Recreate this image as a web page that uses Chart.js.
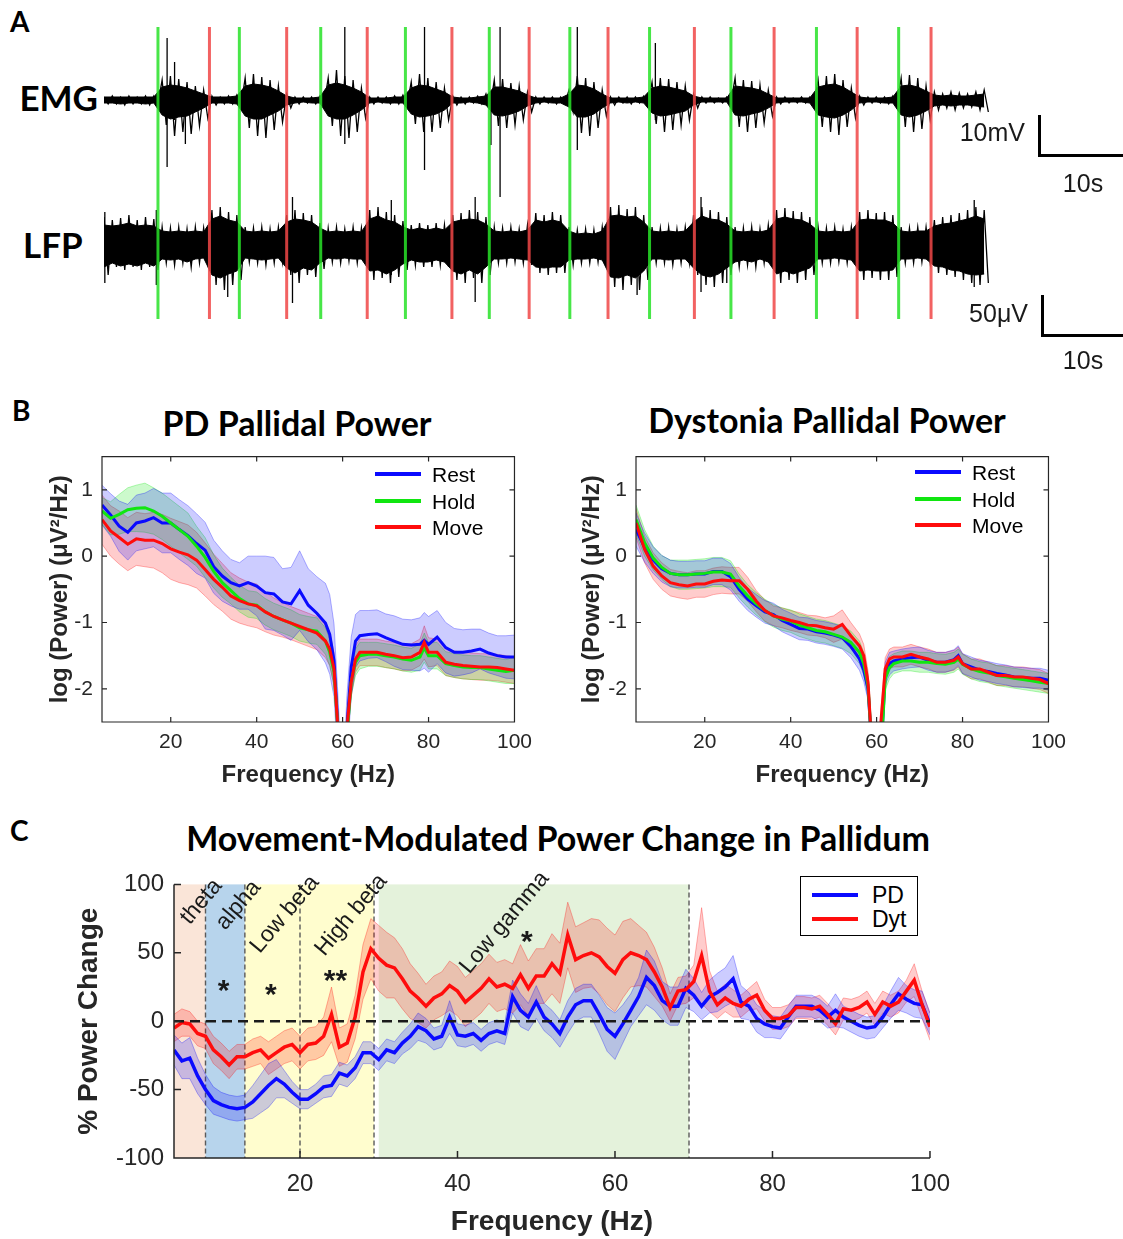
<!DOCTYPE html>
<html lang="en">
<head>
<meta charset="utf-8">
<title>Pallidal power</title>
<script src="https://cdn.jsdelivr.net/npm/chart.js@4.4.1/dist/chart.umd.min.js"></script>
<style>
  html, body { margin: 0; padding: 0; background: #fff; }
  body { position: relative; width: 1123px; height: 1239px; overflow: hidden; font-family: "Liberation Sans", Arial, sans-serif; color: #1a1a1a; }
  canvas { position: absolute; }
  .t { position: absolute; line-height: 1; white-space: nowrap; }
  .bold { font-family: Lato, "Open Sans", sans-serif; font-weight: 700; color: #000; }
  .bar { position: absolute; background: #000; }
  .key { position: absolute; height: 4px; }
</style>
</head>
<body>

<!-- panel A -->
<div class="t bold" style="left:10px;top:21px;font-size:28px;transform:translateY(-50%)">A</div>
<div class="t bold" style="left:98px;top:97px;font-size:35px;transform:translate(-100%,-50%)">EMG</div>
<div class="t bold" style="left:23px;top:244px;font-size:35px;transform:translateY(-50%)">LFP</div>
<canvas id="traces" width="886" height="292" style="left:104px;top:27px"></canvas>
<div class="t" style="left:1025px;top:132px;font-size:25px;transform:translate(-100%,-50%)">10mV</div>
<div class="bar" style="left:1038px;top:115px;width:2.5px;height:41px"></div>
<div class="bar" style="left:1038px;top:154px;width:85px;height:2.5px"></div>
<div class="t" style="left:1083px;top:183px;font-size:25px;transform:translate(-50%,-50%)">10s</div>
<div class="t" style="left:1028px;top:313px;font-size:25px;transform:translate(-100%,-50%)">50μV</div>
<div class="bar" style="left:1041px;top:295px;width:2.5px;height:41px"></div>
<div class="bar" style="left:1041px;top:334px;width:82px;height:2.5px"></div>
<div class="t" style="left:1083px;top:360px;font-size:25px;transform:translate(-50%,-50%)">10s</div>

<!-- panel B -->
<div class="t bold" style="left:12px;top:410px;font-size:28px;transform:translateY(-50%)">B</div>
<div class="t bold" style="left:297px;top:423px;font-size:34px;transform:translate(-50%,-50%)">PD Pallidal Power</div>
<div class="t bold" style="left:827px;top:420px;font-size:34px;transform:translate(-50%,-50%)">Dystonia Pallidal Power</div>
<canvas id="pdPower" width="510" height="365" style="left:30px;top:435px"></canvas>
<canvas id="dytPower" width="510" height="365" style="left:564px;top:435px"></canvas>
<div id="legendPd"></div>
<div id="legendDyt"></div>

<!-- panel C -->
<div class="t bold" style="left:10px;top:830px;font-size:28px;transform:translateY(-50%)">C</div>
<div class="t bold" style="left:558px;top:838px;font-size:34px;transform:translate(-50%,-50%)">Movement-Modulated Power Change in Pallidum</div>
<canvas id="change" width="890" height="379" style="left:72px;top:860px"></canvas>
<div style="position:absolute;left:800px;top:876px;width:116px;height:58px;border:1.5px solid #000;background:#fff"></div>
<div id="legendC"></div>

<script>
// ---- A: raw traces, read per second (px-like units around each baseline)
// peak extents of the signal
const emgHigh = [3,4,3,4,3,4,4, 20,24,21,18,14,10, 4,3,4,5, 22,26,23,20,14,6, 3,3,3,4, 22,30,24,20,12, 3,3,3,4,5, 18,26,22,18,12, 4,3,3,4,6, 20,21,17,14,8, 3,3,3,3,10, 24,22,18,10, 3,3,3,3,4, 18,22,21,18,14,6, 3,3,2,3, 22,20,19,15,10, 3,3,2,3,3, 20,24,26,20,12, 4,3,3,3,4, 22,25,22,14,8, 6,8,7,6,8,10];
const emgLow = [-4,-4,-5,-4,-4,-5,-4, -25,-36,-32,-34,-26,-18, -5,-4,-4,-6, -28,-36,-38,-30,-22,-8, -4,-3,-4,-5, -26,-36,-38,-32,-18, -4,-3,-4,-4,-5, -24,-32,-32,-28,-20, -5,-4,-3,-4,-8, -26,-28,-25,-20,-12, -4,-3,-4,-4,-12, -33,-36,-28,-16, -5,-3,-4,-3,-4, -24,-32,-30,-25,-20,-8, -3,-3,-3,-3, -27,-32,-28,-23,-16, -4,-3,-3,-3,-4, -27,-32,-35,-27,-18, -5,-3,-3,-4,-4, -27,-32,-29,-20,-10, -8,-10,-8,-7,-10,-12];
// dense core of the signal
const emgCoreHigh = [3,3,3,3,3,3,3, 13,15,14,12,9,6, 3,3,3,4, 14,16,15,13,9,4, 2,2,2,3, 15,17,15,12,8, 2,2,2,3,3, 12,15,14,11,8, 3,2,2,3,4, 13,13,11,9,5, 2,2,2,2,6, 15,14,11,6, 2,2,2,2,3, 12,14,13,11,9,4, 2,2,2,2, 14,13,12,10,6, 2,2,2,2,2, 13,15,16,13,8, 3,2,2,2,3, 14,15,13,9,5, 4,5,4,4,5,6];
const emgCoreLow = [-3,-3,-4,-3,-3,-4,-3, -15,-19,-17,-16,-12,-8, -3,-3,-3,-4, -16,-19,-19,-15,-11,-5, -3,-2,-3,-3, -16,-19,-19,-15,-10, -3,-2,-3,-3,-3, -14,-17,-16,-14,-10, -3,-3,-2,-3,-5, -15,-16,-14,-11,-6, -3,-2,-3,-3,-7, -17,-17,-14,-8, -3,-2,-3,-2,-3, -13,-16,-15,-13,-11,-5, -2,-2,-2,-2, -15,-16,-14,-12,-8, -3,-2,-2,-2,-3, -15,-17,-18,-15,-10, -3,-2,-2,-3,-3, -15,-17,-15,-11,-6, -5,-6,-5,-5,-6,-7];
const emgSpikes = [[7.6,-67,62],[8.5,-20,38],[9.8,-44,10],[29.0,-44,73],[38.6,-70,73],[46.6,-45,5],[47.7,-97,73],[57.0,-50,73],[66.4,-20,57]];
const lfpHigh = [28,25,27,30,25,28,26, 18,17,18,16,18,17, 35,38,33,30, 18,17,18,16,18, 30,35,32,30,22, 17,18,16,18,17, 35,38,33,30,24, 20,22,20,22,20, 30,32,35,33,28, 18,17,18,16,20, 32,30,33,30,18, 15,16,15,18, 38,40,36,38,30, 18,17,18,16,18, 30,38,35,33,28, 18,17,18,16,20, 35,37,34,33,28, 18,17,18,16,18, 33,35,32,33,30, 18,17,18,18, 25,28,30,32,35,38,35];
const lfpLow = [-30,-22,-25,-22,-25,-22,-25, -18,-20,-18,-22,-18,-17, -40,-45,-40,-35, -17,-18,-20,-18,-17, -30,-38,-30,-32,-24, -17,-18,-16,-18,-18, -35,-33,-38,-32,-25, -20,-22,-22,-20,-22, -35,-38,-33,-38,-30, -18,-18,-17,-18,-20, -28,-30,-28,-28,-20, -18,-18,-17,-20, -42,-45,-40,-45,-35, -18,-18,-20,-18,-18, -30,-40,-42,-38,-30, -22,-20,-22,-18,-22, -38,-35,-38,-35,-30, -18,-18,-17,-18,-20, -35,-33,-35,-35,-32, -18,-18,-17,-18, -28,-30,-32,-35,-38,-40,-38];
const lfpCoreHigh = [20,19,20,22,19,20,19, 14,13,14,13,14,13, 26,29,25,23, 14,13,14,13,14, 23,26,25,23,17, 13,14,13,14,13, 26,29,25,23,18, 15,17,15,17,15, 23,25,26,25,21, 14,13,14,13,15, 25,23,25,23,14, 11,12,11,14, 29,30,28,29,23, 14,13,14,13,14, 23,29,26,25,21, 14,13,14,13,15, 26,28,26,25,21, 14,13,14,13,14, 25,26,25,25,22, 14,13,14,14, 19,21,22,24,26,29,26];
const lfpCoreLow = [-22,-18,-21,-19,-21,-18,-21, -14,-15,-14,-17,-14,-13, -30,-33,-29,-26, -13,-14,-15,-14,-13, -23,-28,-23,-25,-18, -13,-14,-13,-14,-14, -26,-25,-29,-25,-19, -15,-17,-17,-15,-17, -26,-29,-25,-29,-22, -14,-14,-13,-14,-15, -22,-23,-22,-22,-15, -14,-14,-13,-15, -32,-33,-30,-33,-26, -14,-14,-15,-14,-14, -23,-30,-32,-29,-23, -17,-15,-17,-14,-17, -29,-26,-29,-26,-23, -14,-14,-13,-14,-15, -26,-25,-26,-26,-25, -14,-14,-13,-14, -21,-22,-25,-26,-29,-30,-29];
const lfpSpikes = [[0.1,-38,33],[6.3,-40,35],[14.9,-52,20],[22.7,-58,48],[34.6,-30,45],[44.7,-57,48],[64.2,-50,20],[71.9,-47,48],[75.0,-38,10],[104.8,-42,45]];
const holdOnsets = [6.5, 16.3, 26.1, 36.3, 46.4, 56.1, 65.7, 75.5, 85.8, 95.7];
const moveOnsets = [12.7, 22.0, 31.7, 41.9, 51.2, 60.7, 71.1, 80.7, 90.7, 99.6];

// ---- B: log power spectra (mean and sem)
const freqB = [4,6,8,10,12,14,16,18,20,22,24,26,28,30,32,34,36,38,40,42,44,46,48,50,52,54,56,57,58,59,60,61,62,63,64,66,68,70,72,74,76,78,79,80,82,84,86,88,90,92,94,96,98,100];
const pdRest = [.77,.62,.45,.36,.5,.53,.58,.5,.5,.4,.31,.19,.09,-.16,-.3,-.4,-.45,-.4,-.45,-.55,-.57,-.69,-.72,-.52,-.74,-.86,-1.01, -1.18,-1.57,-2.7,-4,-2.6,-1.67,-1.28, -1.2,-1.18,-1.17,-1.23,-1.28,-1.33,-1.34,-1.33,-1.27,-1.33,-1.22,-1.38,-1.45,-1.45,-1.43,-1.4,-1.46,-1.5,-1.52,-1.52];
const pdRestSem = [.3,.32,.38,.42,.42,.42,.44,.45,.45,.45,.45,.45,.42,.4,.38,.35,.35,.4,.45,.55,.55,.5,.55,.6,.55,.55,.6, .6,.55,.5,.5,.5,.45,.4, .38,.36,.36,.36,.38,.38,.38,.4,.42,.42,.4,.38,.36,.34,.33,.3,.3,.3,.32,.33];
const pdHold = [.68,.57,.63,.7,.72,.73,.68,.6,.5,.4,.3,.15,-.02,-.23,-.4,-.52,-.64,-.72,-.74,-.84,-.91,-.96,-1.01,-1.08,-1.11,-1.13,-1.28, -1.45,-1.75,-2.7,-4,-2.7,-1.9,-1.6, -1.5,-1.48,-1.48,-1.5,-1.52,-1.55,-1.57,-1.52,-1.38,-1.5,-1.5,-1.62,-1.65,-1.67,-1.68,-1.68,-1.7,-1.72,-1.74,-1.72];
const pdHoldSem = [.2,.25,.3,.33,.35,.37,.35,.35,.35,.35,.35,.3,.3,.25,.22,.2,.2,.2,.2,.2,.2,.2,.2,.2,.2,.2,.2, .2,.2,.2,.2,.2,.2,.2, .2,.18,.18,.18,.18,.18,.18,.2,.22,.2,.2,.18,.18,.18,.18,.18,.18,.18,.18,.2];
const pdMove = [.55,.38,.28,.18,.26,.24,.24,.19,.11,.06,.02,-.06,-.2,-.35,-.47,-.6,-.67,-.72,-.75,-.84,-.91,-.96,-1.01,-1.06,-1.11,-1.16,-1.28, -1.4,-1.7,-2.7,-4,-2.6,-1.9,-1.55, -1.45,-1.45,-1.45,-1.48,-1.5,-1.53,-1.52,-1.45,-1.3,-1.45,-1.45,-1.6,-1.63,-1.65,-1.66,-1.67,-1.67,-1.68,-1.7,-1.72];
const pdMoveSem = [.37,.38,.4,.4,.4,.4,.42,.44,.46,.46,.45,.42,.4,.38,.36,.35,.34,.33,.33,.3,.28,.26,.25,.25,.25,.25,.25, .25,.25,.25,.25,.25,.22,.2, .2,.2,.2,.2,.2,.2,.2,.2,.25,.22,.2,.2,.2,.2,.2,.2,.2,.2,.2,.2];
const dytRest = [.4,.13,-.06,-.19,-.26,-.28,-.28,-.27,-.27,-.23,-.23,-.31,-.5,-.65,-.75,-.84,-.88,-.97,-1.03,-1.09,-1.1,-1.14,-1.16,-1.19,-1.23,-1.36,-1.55, -1.72,-2.0,-3,-4,-3,-1.77,-1.62, -1.58,-1.55,-1.53,-1.52,-1.57,-1.6,-1.6,-1.56,-1.5,-1.62,-1.67,-1.72,-1.74,-1.77,-1.79,-1.82,-1.83,-1.84,-1.84,-1.87];
const dytRestSem = [.25,.22,.2,.2,.2,.2,.2,.2,.2,.2,.2,.2,.18,.17,.17,.17,.17,.17,.17,.17,.17,.17,.17,.17,.17,.17,.17, .17,.17,.17,.17,.17,.17,.17, .15,.15,.15,.15,.15,.15,.15,.15,.15,.15,.15,.15,.15,.15,.15,.15,.15,.15,.15,.15];
const dytHold = [.55,.2,-.03,-.17,-.26,-.28,-.28,-.27,-.26,-.24,-.24,-.27,-.45,-.6,-.72,-.82,-.9,-.95,-.98,-1.04,-1.08,-1.12,-1.14,-1.18,-1.22,-1.3,-1.45, -1.62,-1.95,-3,-4,-3,-1.85,-1.68, -1.62,-1.58,-1.58,-1.6,-1.6,-1.62,-1.63,-1.6,-1.55,-1.63,-1.7,-1.74,-1.76,-1.8,-1.82,-1.84,-1.86,-1.88,-1.9,-1.92];
const dytHoldSem = [.22,.2,.18,.18,.2,.22,.22,.22,.22,.22,.22,.2,.18,.17,.17,.17,.17,.17,.17,.17,.17,.17,.17,.17,.17,.17,.17, .17,.17,.17,.17,.17,.17,.17, .15,.15,.15,.15,.15,.15,.15,.15,.15,.15,.15,.15,.15,.15,.15,.15,.15,.15,.15,.15];
const dytMove = [.5,.1,-.15,-.3,-.4,-.43,-.45,-.42,-.42,-.38,-.36,-.37,-.37,-.5,-.68,-.82,-.9,-.93,-.97,-1.0,-1.04,-1.05,-1.08,-1.1,-1.03,-1.2,-1.35, -1.5,-1.9,-3,-4,-2.5,-1.7,-1.55, -1.52,-1.52,-1.48,-1.52,-1.55,-1.6,-1.6,-1.57,-1.52,-1.62,-1.7,-1.7,-1.75,-1.8,-1.8,-1.82,-1.82,-1.84,-1.86,-1.92];
const dytMoveSem = [.22,.2,.2,.2,.2,.2,.2,.2,.2,.2,.2,.2,.2,.18,.16,.16,.15,.15,.15,.15,.15,.15,.15,.2,.22,.2,.18, .17,.17,.17,.17,.17,.17,.15, .15,.15,.15,.15,.15,.15,.15,.15,.15,.15,.15,.15,.15,.15,.15,.15,.15,.15,.15,.15];
const freqTicksB = [20, 40, 60, 80, 100];
const powerTicks = [-2, -1, 0, 1];

// ---- C: % power change, 1 Hz bins from 4 to 100 Hz
const freqC = Array.from({ length: 97 }, (_, i) => 4 + i);
const pdChange = [-21,-29,-27,-40,-50,-58,-61,-63,-64,-63,-59,-53,-47,-42,-46,-52,-57,-57,-53,-48,-47,-38,-40,-34,-23,-23,-28,-21,-23,-16,-11,-4,-7,-13,-11,3,-10,-11,-9,-14,-9,-7,-9,18,8,3,14,3,-2,-9,3,12,15,15,5,-6,-11,-2,8,18,32,26,15,11,11,24,19,11,18,21,25,31,14,11,2,-2,-4,-5,3,11,11,11,8,3,8,3,0,-3,-5,-4,3,12,20,16,13,12,-2];
const pdChangeSem = [11,13,15,13,11,10,9,9,9,9,12,14,16,14,10,8,7,7,7,8,8,8,8,8,8,8,8,8,8,8,9,10,9,8,8,12,8,8,8,8,8,8,8,12,12,10,12,10,10,10,12,12,12,12,14,16,17,14,12,14,20,18,14,14,14,14,12,10,12,14,14,17,12,10,10,10,8,8,8,8,8,8,8,8,12,8,8,8,8,8,8,10,12,10,10,10,8];
const dytChange = [-5,-1,-2,-9,-11,-21,-26,-32,-26,-26,-23,-21,-27,-23,-19,-17,-23,-17,-16,-11,5,-19,-16,3,36,53,46,41,39,31,22,17,11,17,20,26,22,14,19,24,31,25,27,24,34,24,33,33,42,35,63,45,48,50,47,40,35,45,50,48,45,36,25,10,22,23,29,48,22,12,17,13,11,16,19,8,2,2,4,10,10,9,11,5,-2,9,8,10,14,5,14,11,14,22,30,12,-4];
const dytChangeSem = [10,10,9,9,9,10,10,10,9,9,10,10,12,12,12,12,12,12,12,14,20,14,14,16,20,22,24,24,22,22,20,18,16,16,16,18,18,18,18,18,18,18,18,18,22,20,20,20,22,22,24,24,24,25,27,28,28,28,25,22,20,18,14,10,10,10,12,35,15,10,10,10,8,8,10,8,8,8,8,8,8,8,8,8,8,8,8,8,8,8,8,8,8,8,12,10,10];
const freqTicksC = [20, 40, 60, 80, 100];
const changeTicks = [-100, -50, 0, 50, 100];
const bandNames = ["theta", "alpha", "Low beta", "High beta", "Low gamma"];
const bandFrom = [4, 8, 13, 20, 30];
const bandTo = [8, 13, 20, 29.4, 69.4];
const bandLabelAt = [[6.0, 70], [10.5, 66], [14.9, 49], [23.1, 47], [41.5, 34]];
const starText = ["*", "*", "**", "*"];
const starAt = [[10.3, 28], [16.3, 25], [24.5, 35], [48.8, 64]];

const bandFills = ["rgb(250,229,216)", "rgb(183,212,236)", "rgb(255,253,206)", "rgb(255,253,206)", "rgb(228,242,219)"];
const BLUE = "#0a0aff", GREEN = "#10e610", RED = "#ff0c0c";
const AXIS = "#262626";
const SANS = "'Liberation Sans', Arial, sans-serif";

function pts(xs, ys) {
    return xs.map((x, i) => ({ x: x, y: ys[i] }));
}

function bandPair(xs, mean, sem, rgb) {
    const hi = mean.map((m, i) => m + sem[i]);
    const lo = mean.map((m, i) => m - sem[i]);
    return [
        { data: pts(xs, hi), borderColor: `rgba(${rgb},0.3)`, borderWidth: 1, pointRadius: 0, fill: false },
        { data: pts(xs, lo), borderColor: `rgba(${rgb},0.3)`, borderWidth: 1, pointRadius: 0, fill: "-1", backgroundColor: `rgba(${rgb},0.2)` },
    ];
}

function meanLine(xs, ys, color, width) {
    return { data: pts(xs, ys), borderColor: color, borderWidth: width, pointRadius: 0, fill: false };
}

// box outline + inward tick marks, MATLAB style
const axesBox = {
    id: "axesBox",
    afterDatasetsDraw(chart, args, opts) {
        const { ctx, chartArea: a, scales } = chart;
        const t = opts.tick;
        ctx.save();
        ctx.strokeStyle = AXIS;
        ctx.lineWidth = opts.lineWidth;
        ctx.beginPath();
        if (opts.full) {
            ctx.rect(a.left, a.top, a.right - a.left, a.bottom - a.top);
        } else {
            ctx.moveTo(a.left, a.top);
            ctx.lineTo(a.left, a.bottom);
            ctx.lineTo(a.right, a.bottom);
        }
        scales.x.ticks.forEach((tk) => {
            const px = scales.x.getPixelForValue(tk.value);
            ctx.moveTo(px, a.bottom);
            ctx.lineTo(px, a.bottom - t);
            if (opts.full) {
                ctx.moveTo(px, a.top);
                ctx.lineTo(px, a.top + t);
            }
        });
        scales.y.ticks.forEach((tk) => {
            const py = scales.y.getPixelForValue(tk.value);
            ctx.moveTo(a.left, py);
            ctx.lineTo(a.left + t, py);
            if (opts.full) {
                ctx.moveTo(a.right, py);
                ctx.lineTo(a.right - t, py);
            }
        });
        ctx.stroke();
        ctx.restore();
    },
};

function freqScales(cfg) {
    return {
        x: {
            type: "linear",
            min: 4,
            max: 100,
            afterBuildTicks: (s) => { s.ticks = cfg.xTicks.map((v) => ({ value: v })); },
            afterFit: (s) => { s.height = cfg.xHeight; },
            grid: { display: false, drawTicks: false },
            border: { display: false },
            ticks: { padding: cfg.xPad, color: AXIS, maxRotation: 0, autoSkip: false, font: { family: SANS, size: cfg.tickSize } },
            title: { display: true, text: "Frequency (Hz)", color: AXIS, padding: { top: 0, bottom: cfg.xTitlePad }, font: { family: SANS, size: cfg.xTitleSize, weight: "bold" } },
        },
        y: {
            type: "linear",
            min: cfg.yMin,
            max: cfg.yMax,
            afterBuildTicks: (s) => { s.ticks = cfg.yTicks.map((v) => ({ value: v })); },
            afterFit: (s) => { s.width = cfg.yWidth; },
            grid: { display: false, drawTicks: false },
            border: { display: false },
            ticks: { padding: cfg.yPad, color: AXIS, font: { family: SANS, size: cfg.tickSize } },
            title: { display: true, text: cfg.yTitle, color: AXIS, padding: { top: cfg.yTitlePad, bottom: 0 }, font: { family: SANS, size: cfg.yTitleSize, weight: "bold" } },
        },
    };
}

function drawTraces() {
    const emgBase = 0;
    const lfpBase = -145;
    const shift = (arr, base) => arr.map((v, i) => ({ x: i, y: base + v }));
    // alternate between the positive and negative extent of each second
    const zigzag = (hi, lo, base) => hi.flatMap((v, i) => [{ x: i, y: base + v }, { x: i + 0.5, y: base + lo[i] }]);
    const spikeLine = (list, base) => {
        const out = [];
        list.forEach(([t, lo, hi]) => {
            out.push({ x: t, y: base + lo }, { x: t, y: base + hi }, { x: t, y: null });
        });
        return out;
    };
    const core = (data, fill) => ({ data: data, borderColor: "#000", borderWidth: 1, pointRadius: 0, fill: fill, backgroundColor: "#000" });
    const wiggle = (data) => ({ data: data, borderColor: "#000", borderWidth: 1.3, pointRadius: 0, fill: false });

    const eventLines = {
        id: "eventLines",
        afterDatasetsDraw(chart) {
            const { ctx, chartArea: a, scales: { x } } = chart;
            ctx.save();
            ctx.lineWidth = 3;
            [[holdOnsets, "rgba(40,226,40,0.85)"], [moveOnsets, "rgba(240,70,70,0.85)"]].forEach(([times, color]) => {
                ctx.strokeStyle = color;
                times.forEach((t) => {
                    const px = x.getPixelForValue(t);
                    ctx.beginPath();
                    ctx.moveTo(px, a.top);
                    ctx.lineTo(px, a.bottom);
                    ctx.stroke();
                });
            });
            ctx.restore();
        },
    };

    new Chart(document.getElementById("traces"), {
        type: "line",
        data: {
            datasets: [
                core(shift(emgCoreHigh, emgBase), false),
                core(shift(emgCoreLow, emgBase), "-1"),
                core(shift(lfpCoreHigh, lfpBase), false),
                core(shift(lfpCoreLow, lfpBase), "-1"),
                wiggle(zigzag(emgHigh, emgLow, emgBase)),
                wiggle(zigzag(lfpHigh, lfpLow, lfpBase)),
                { data: spikeLine(emgSpikes, emgBase), borderColor: "#000", borderWidth: 1.3, pointRadius: 0, spanGaps: false },
                { data: spikeLine(lfpSpikes, lfpBase), borderColor: "#000", borderWidth: 1.3, pointRadius: 0, spanGaps: false },
            ],
        },
        options: {
            responsive: false,
            animation: false,
            layout: { padding: 0 },
            plugins: { legend: { display: false }, tooltip: { enabled: false } },
            scales: {
                x: { type: "linear", min: 0, max: 106.7, display: false },
                y: { type: "linear", min: -219, max: 73, display: false },
            },
        },
        plugins: [eventLines],
    });
}

function drawSpectrum(id, rest, restSem, hold, holdSem, move, moveSem, yTitlePad, padRight) {
    const datasets = [
        meanLine(freqB, move, RED, 3),
        meanLine(freqB, hold, GREEN, 3),
        meanLine(freqB, rest, BLUE, 3),
        ...bandPair(freqB, rest, restSem, "0,0,255"),
        ...bandPair(freqB, hold, holdSem, "0,230,0"),
        ...bandPair(freqB, move, moveSem, "255,0,0"),
    ];
    new Chart(document.getElementById(id), {
        type: "line",
        data: { datasets: datasets },
        options: {
            responsive: false,
            animation: false,
            layout: { padding: { top: 17, right: padRight, bottom: 0, left: 0 } },
            plugins: {
                legend: { display: false },
                tooltip: { enabled: false },
                axesBox: { full: true, tick: 5, lineWidth: 1.2 },
            },
            scales: freqScales({
                xTicks: freqTicksB, yTicks: powerTicks, yMin: -2.5, yMax: 1.5,
                xHeight: 78, yWidth: 72, xPad: 8, yPad: 9, xTitlePad: 10, yTitlePad: yTitlePad,
                tickSize: 21, xTitleSize: 24, yTitleSize: 24, yTitle: "log (Power) (μV²/Hz)",
            }),
        },
        plugins: [axesBox],
    });
}

function drawChange() {
    const bandShading = {
        id: "bandShading",
        beforeDraw(chart) {
            const { ctx, chartArea: a, scales: { x } } = chart;
            ctx.save();
            bandFrom.forEach((f, i) => {
                const x0 = x.getPixelForValue(f);
                const x1 = x.getPixelForValue(bandTo[i]);
                ctx.fillStyle = bandFills[i];
                ctx.fillRect(x0, a.top, x1 - x0, a.bottom - a.top);
            });
            ctx.strokeStyle = "#5a5a5a";
            ctx.lineWidth = 1.4;
            ctx.setLineDash([5, 3]);
            bandTo.forEach((f) => {
                const px = x.getPixelForValue(f);
                ctx.beginPath();
                ctx.moveTo(px, a.top);
                ctx.lineTo(px, a.bottom);
                ctx.stroke();
            });
            ctx.restore();
        },
    };

    const bandMarks = {
        id: "bandMarks",
        afterDatasetsDraw(chart) {
            const { ctx, chartArea: a, scales: { x, y } } = chart;
            ctx.save();
            // zero reference
            ctx.strokeStyle = "#1a1a1a";
            ctx.lineWidth = 2.4;
            ctx.setLineDash([10, 6]);
            ctx.beginPath();
            ctx.moveTo(a.left, y.getPixelForValue(0));
            ctx.lineTo(a.right, y.getPixelForValue(0));
            ctx.stroke();
            ctx.setLineDash([]);
            // band names
            ctx.fillStyle = "#1a1a1a";
            ctx.font = `23px ${SANS}`;
            ctx.textAlign = "left";
            ctx.textBaseline = "alphabetic";
            bandNames.forEach((name, i) => {
                ctx.save();
                ctx.translate(x.getPixelForValue(bandLabelAt[i][0]), y.getPixelForValue(bandLabelAt[i][1]));
                ctx.rotate(-50 * Math.PI / 180);
                ctx.fillText(name, 0, 0);
                ctx.restore();
            });
            // significance
            ctx.font = `bold 30px ${SANS}`;
            ctx.textAlign = "center";
            starText.forEach((s, i) => {
                ctx.fillText(s, x.getPixelForValue(starAt[i][0]), y.getPixelForValue(starAt[i][1]) + 17);
            });
            ctx.restore();
        },
    };

    const datasets = [
        meanLine(freqC, dytChange, RED, 3.5),
        meanLine(freqC, pdChange, BLUE, 3.5),
        ...bandPair(freqC, pdChange, pdChangeSem, "0,0,255"),
        ...bandPair(freqC, dytChange, dytChangeSem, "255,0,0"),
    ];
    new Chart(document.getElementById("change"), {
        type: "line",
        data: { datasets: datasets },
        options: {
            responsive: false,
            animation: false,
            layout: { padding: { top: 17, right: 29, bottom: 0, left: 0 } },
            plugins: {
                legend: { display: false },
                tooltip: { enabled: false },
                axesBox: { full: false, tick: 7, lineWidth: 1.5 },
            },
            scales: freqScales({
                xTicks: freqTicksC, yTicks: changeTicks, yMin: -100, yMax: 100,
                xHeight: 81, yWidth: 102, xPad: 12, yPad: 10, xTitlePad: 0, yTitlePad: 0,
                tickSize: 24, xTitleSize: 28, yTitleSize: 28, yTitle: "% Power Change",
            }),
        },
        plugins: [bandShading, bandMarks, axesBox],
    });
}

function buildLegend(id, items, lineLeft, textLeft, lineWidth, fontSize) {
    const host = document.getElementById(id);
    items.forEach(([label, color, y]) => {
        const line = document.createElement("div");
        line.className = "key";
        line.style.cssText = `left:${lineLeft}px;top:${y - 2}px;width:${lineWidth}px;background:${color}`;
        const text = document.createElement("div");
        text.className = "t";
        text.style.cssText = `left:${textLeft}px;top:${y}px;font-size:${fontSize}px;transform:translateY(-50%);color:#000`;
        text.textContent = label;
        host.appendChild(line);
        host.appendChild(text);
    });
}

drawTraces();
drawSpectrum("pdPower", pdRest, pdRestSem, pdHold, pdHoldSem, pdMove, pdMoveSem, 16, 23);
drawSpectrum("dytPower", dytRest, dytRestSem, dytHold, dytHoldSem, dytMove, dytMoveSem, 14, 24);
drawChange();

buildLegend("legendPd", [["Rest", BLUE, 474], ["Hold", GREEN, 501], ["Move", RED, 527]], 375, 432, 46, 21);
buildLegend("legendDyt", [["Rest", BLUE, 472], ["Hold", GREEN, 499], ["Move", RED, 525]], 915, 972, 46, 21);
buildLegend("legendC", [["PD", BLUE, 895], ["Dyt", RED, 919]], 812, 872, 46, 23);
</script>
</body>
</html>
